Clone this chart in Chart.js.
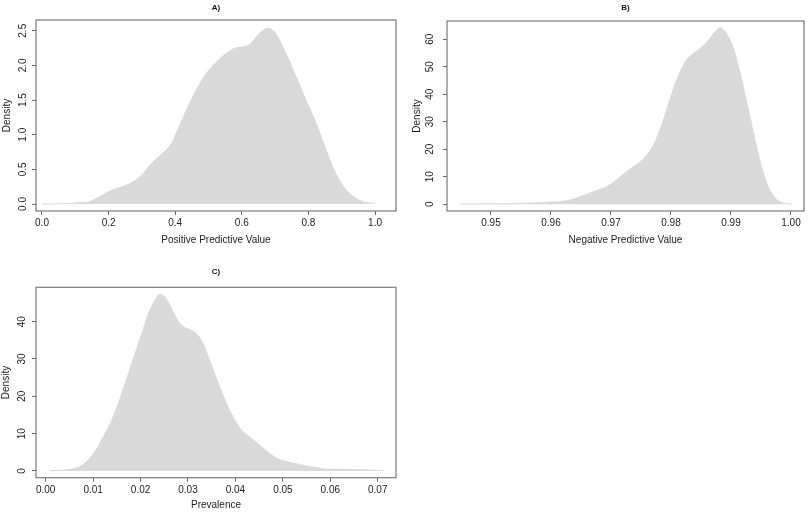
<!DOCTYPE html>
<html>
<head>
<meta charset="utf-8">
<script src="https://cdn.jsdelivr.net/npm/chart.js@4.4.1/dist/chart.umd.min.js"></script>
<style>
  html, body { margin: 0; padding: 0; background: #fff; }
  #wrap { position: relative; width: 810px; height: 512px; }
  canvas { position: absolute; }
</style>
</head>
<body>
<div id="wrap">
  <canvas id="ppv" width="405" height="255" style="left:0;top:0"></canvas>
  <canvas id="npv" width="405" height="255" style="left:405px;top:0"></canvas>
  <canvas id="prev" width="405" height="257" style="left:0;top:255px"></canvas>
</div>
<script>
// A) Positive predictive value
const ppvX = [0.00, 0.07, 0.12, 0.14, 0.16, 0.18, 0.20, 0.23, 0.27, 0.30, 0.33, 0.36, 0.39, 0.41, 0.44, 0.465, 0.49, 0.52, 0.55, 0.57, 0.59, 0.61, 0.63, 0.65, 0.68, 0.70, 0.73, 0.76, 0.79, 0.82, 0.85, 0.88, 0.91, 0.94, 0.97, 1.00];
const ppvY = [0.00, 0.005, 0.02, 0.03, 0.07, 0.12, 0.18, 0.23, 0.31, 0.42, 0.59, 0.72, 0.88, 1.10, 1.42, 1.66, 1.86, 2.03, 2.16, 2.23, 2.26, 2.27, 2.33, 2.45, 2.535, 2.47, 2.20, 1.87, 1.53, 1.20, 0.82, 0.46, 0.22, 0.09, 0.025, 0.005];
const ppvXTicks = [0, 0.2, 0.4, 0.6, 0.8, 1.0];
const ppvYTicks = [0, 0.5, 1.0, 1.5, 2.0, 2.5];

// B) Negative predictive value
const npvX = [0.9448, 0.950, 0.955, 0.960, 0.9625, 0.965, 0.967, 0.9698, 0.9726, 0.9754, 0.9768, 0.9779, 0.9790, 0.9801, 0.9812, 0.9823, 0.9835, 0.9848, 0.986, 0.9872, 0.9882, 0.989, 0.9902, 0.9915, 0.9932, 0.9948, 0.9965, 0.9982, 1.0001];
const npvY = [0.1, 0.2, 0.3, 0.8, 1.2, 2.8, 4.5, 7.0, 11.9, 16.5, 20.5, 25.5, 32.5, 40.0, 46.5, 51.5, 54.5, 56.5, 59.0, 62.3, 64.2, 62.8, 58.0, 47.8, 31.5, 16.0, 5.0, 0.9, 0.1];
const npvXTicks = [0.95, 0.96, 0.97, 0.98, 0.99, 1.00];
const npvYTicks = [0, 10, 20, 30, 40, 50, 60];

// C) Prevalence
const prevX = [0.001, 0.0044, 0.0065, 0.0078, 0.0099, 0.012, 0.0141, 0.0162, 0.0183, 0.0202, 0.0215, 0.0228, 0.0241, 0.0252, 0.0264, 0.0282, 0.0295, 0.0308, 0.032, 0.0332, 0.0345, 0.0358, 0.0372, 0.0389, 0.041, 0.0438, 0.0459, 0.0487, 0.0522, 0.0557, 0.0592, 0.0642, 0.0691, 0.0712];
const prevY = [0.1, 0.3, 0.8, 1.6, 4.3, 8.8, 14.1, 21.3, 29.3, 36.5, 41.5, 45.3, 47.3, 46.5, 43.8, 39.6, 38.3, 37.6, 36.5, 34.0, 29.8, 25.5, 20.8, 15.9, 11.4, 8.3, 6.1, 3.4, 2.1, 1.2, 0.5, 0.4, 0.2, 0.05];
const prevXTicks = [0, 0.01, 0.02, 0.03, 0.04, 0.05, 0.06, 0.07];
const prevYTicks = [0, 10, 20, 30, 40];

const FONT = 'Liberation Sans, Arial, Helvetica, sans-serif';
const FILL = '#d9d9d9';
const TEXT = '#222';
const TICK = '#666';

// cadre gris autour de la zone de tracé (comme bty="o" dans R)
const boxPlugin = {
    id: 'box',
    afterDraw(chart) {
        const { ctx, chartArea: a } = chart;
        ctx.save();
        ctx.strokeStyle = '#7a7a7a';
        ctx.lineWidth = 1.2;
        ctx.strokeRect(a.left, a.top, a.right - a.left, a.bottom - a.top);
        ctx.restore();
    }
};

function densityChart(canvasId, p) {
    const canvas = document.getElementById(canvasId);
    const W = canvas.width, H = canvas.height;
    const font = { family: FONT, size: 10 };

    return new Chart(canvas, {
        type: 'line',
        data: {
            datasets: [{
                data: p.xs.map((x, i) => ({ x, y: p.ys[i] })),
                fill: 'origin',
                backgroundColor: FILL,
                borderColor: FILL,
                borderWidth: 1,
                pointRadius: 0,
                cubicInterpolationMode: 'monotone'
            }]
        },
        options: {
            responsive: false,
            animation: false,
            events: [],
            layout: { padding: { left: 0, top: 0, bottom: 0, right: W - p.area.right } },
            plugins: {
                legend: { display: false },
                tooltip: { enabled: false },
                title: {
                    display: true,
                    text: p.title,
                    fullSize: false,
                    color: '#111',
                    font: { family: FONT, size: 8, weight: 'bold' },
                    padding: { top: p.titlePad[0], bottom: p.titlePad[1] }
                }
            },
            scales: {
                x: {
                    type: 'linear',
                    min: p.xRange[0],
                    max: p.xRange[1],
                    afterBuildTicks: s => { s.ticks = p.xTicks.map(v => ({ value: v })); },
                    afterFit: s => { s.height = H - p.area.bottom; },
                    border: { display: false },
                    grid: { drawOnChartArea: false, tickLength: 4, color: TICK },
                    ticks: {
                        autoSkip: false, maxRotation: 0, color: TEXT, font,
                        padding: p.xTickPad,
                        callback: v => Number(v).toFixed(p.xDec)
                    },
                    title: {
                        display: true, text: p.xLabel, color: TEXT, font,
                        padding: { top: 0, bottom: p.xTitlePad }
                    }
                },
                y: {
                    type: 'linear',
                    min: p.yRange[0],
                    max: p.yRange[1],
                    afterBuildTicks: s => { s.ticks = p.yTicks.map(v => ({ value: v })); },
                    afterFit: s => { s.width = p.area.left; },
                    border: { display: false },
                    grid: { drawOnChartArea: false, tickLength: 4, color: TICK },
                    ticks: {
                        autoSkip: false, minRotation: 90, maxRotation: 90,
                        crossAlign: 'center', color: TEXT, font,
                        padding: p.yTickPad,
                        callback: v => Number(v).toFixed(p.yDec)
                    },
                    title: {
                        display: true, text: 'Density', color: TEXT, font,
                        padding: { top: p.yTitlePad, bottom: 0 }
                    }
                }
            }
        },
        plugins: [boxPlugin]
    });
}

densityChart('ppv', {
    title: 'A)', xLabel: 'Positive Predictive Value',
    xs: ppvX, ys: ppvY, xTicks: ppvXTicks, yTicks: ppvYTicks,
    xRange: [-0.018, 1.063], yRange: [-0.101, 2.655], xDec: 1, yDec: 1,
    area: { left: 36, right: 396, bottom: 211 },
    titlePad: [3.2, 7.2], xTickPad: 2, yTickPad: 2, xTitlePad: 9, yTitlePad: 1.5
});

densityChart('npv', {
    title: 'B)', xLabel: 'Negative Predictive Value',
    xs: npvX, ys: npvY, xTicks: npvXTicks, yTicks: npvYTicks,
    xRange: [0.94267, 1.00217], yRange: [-2.44, 66.65], xDec: 2, yDec: 0,
    area: { left: 42, right: 399, bottom: 211 },
    titlePad: [3.2, 8.2], xTickPad: 2, yTickPad: 6.7, xTitlePad: 9, yTitlePad: 6.5
});

densityChart('prev', {
    title: 'C)', xLabel: 'Prevalence',
    xs: prevX, ys: prevY, xTicks: prevXTicks, yTicks: prevYTicks,
    xRange: [-0.00204, 0.07385], yRange: [-1.8, 49.2], xDec: 2, yDec: 0,
    area: { left: 36, right: 396, bottom: 222.7 },
    titlePad: [12.2, 10.5], xTickPad: 3, yTickPad: 4.2, xTitlePad: 0.3, yTitlePad: 0.3
});
</script>
</body>
</html>
